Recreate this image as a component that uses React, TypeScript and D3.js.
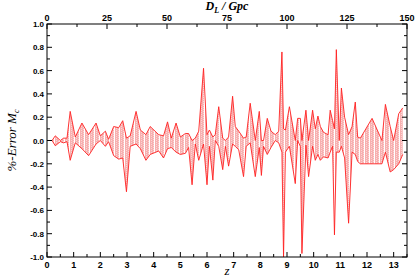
import React, { useEffect, useRef } from "react";
import * as d3 from "d3";

// redshift sample points
const zs = [
  0.19, 0.31, 0.5, 0.62, 0.75, 0.87, 1.06, 1.31, 1.56, 1.84, 2.0, 2.19, 2.31,
  2.5, 2.69, 2.84, 2.98, 3.12, 3.34, 3.5, 3.71, 3.87, 4.19, 4.37, 4.52, 4.66,
  4.84, 5.0, 5.19, 5.31, 5.44, 5.56, 5.69, 5.87, 6.0, 6.09, 6.22, 6.31, 6.44,
  6.59, 6.69, 6.81, 6.96, 7.06, 7.19, 7.37, 7.47, 7.62, 7.81, 7.96, 8.04, 8.12,
  8.26, 8.4, 8.56, 8.69, 8.81, 8.87, 8.94, 9.09, 9.31, 9.4, 9.5, 9.56, 9.71,
  9.81, 9.96, 10.06, 10.16, 10.25, 10.37, 10.54, 10.62, 10.71, 10.78, 10.85,
  10.96, 11.04, 11.16, 11.31, 11.44, 11.56, 11.65, 11.75, 12.19, 12.56, 12.69,
  12.87, 13.0, 13.19, 13.34,
];

const upper = [
  0, 0.04, 0.0, 0.02, 0.02, 0.25, 0.03, 0.15, 0.05, 0.15, 0.04, 0.08, 0.01,
  0.12, 0.11, 0.17, 0.02, 0.04, 0.25, 0.09, 0.05, 0.12, 0.05, 0.04, 0.16, 0.02,
  0.15, 0.03, 0.06, 0.06, 0.0, 0.02, 0.08, 0.62, 0.05, 0.09, 0.03, 0.05, 0.29,
  0.02, 0.0, 0.03, 0.38, 0.12, 0.08, 0.02, 0.03, 0.32, 0.0, 0.25, 0.0, 0.0,
  0.19, 0.08, 0.05, 0.08, 0.76, 0.1, 0.09, 0.29, 0.0, 0.19, 0.19, 0.0, 0.26,
  0.0, 0.26, 0.1, 0.21, 0.12, 0.07, 0.05, 0.26, 0.17, 0.1, 0.78, 0.0, 0.45,
  0.2, 0.05, 0.12, 0.33, 0.03, 0.02, 0.19, 0.0, 0.31, 0.12, 0.0, 0.23, 0.28,
];

const lower = [
  0, -0.045, -0.01, -0.02, -0.01, -0.17, -0.02, -0.07, -0.13, -0.03, 0.0,
  -0.05, -0.01, -0.13, -0.16, -0.15, -0.44, -0.05, -0.03, -0.07, -0.17, -0.12,
  -0.09, -0.15, -0.07, -0.06, -0.1, -0.12, -0.11, -0.06, -0.38, -0.03, -0.17,
  -0.03, -0.38, -0.05, -0.34, 0.0, -0.05, -0.25, -0.05, -0.22, -0.03, -0.05,
  -0.08, -0.31, -0.05, -0.02, -0.31, -0.06, -0.3, -0.05, -0.12, -0.06, 0.0,
  -0.02, -0.1, -1.0, -0.1, -0.05, -0.37, 0.0, -0.05, -0.97, -0.04, -0.31,
  -0.05, -0.17, -0.12, -0.17, -0.14, -0.15, -0.1, -0.05, -0.81, -0.1, -0.1,
  -0.05, -0.15, -0.71, -0.1, -0.12, -0.18, -0.2, -0.2, -0.2, -0.1, -0.27,
  -0.25, -0.2, -0.12,
];

const zTicks = d3.range(0, 14, 1);
const dlTicks = [0, 25, 50, 75, 100, 125, 150];
const yTicks = [1.0, 0.8, 0.6, 0.4, 0.2, 0.0, -0.2, -0.4, -0.6, -0.8, -1.0];

export default function App() {
  const svgRef = useRef<SVGSVGElement>(null);

  useEffect(() => {
    const width = 415;
    const height = 277;
    const m = { left: 47, right: 8, top: 24, bottom: 20 };
    const svg = d3.select(svgRef.current);
    svg.selectAll("*").remove();

    const x = d3.scaleLinear().domain([0, 13.5]).range([m.left, width - m.right]);
    const xTop = d3.scaleLinear().domain([0, 150]).range([m.left, width - m.right]);
    const y = d3.scaleLinear().domain([-1, 1]).range([height - m.bottom, m.top]);

    // pink dotted fill with thin white vertical stripes
    const defs = svg.append("defs");
    const pat = defs
      .append("pattern")
      .attr("id", "hatch")
      .attr("width", 5)
      .attr("height", 2)
      .attr("patternUnits", "userSpaceOnUse");
    pat.append("rect").attr("width", 5).attr("height", 2).attr("fill", "#f7b0b0");
    pat.append("rect").attr("x", 1).attr("width", 1).attr("height", 1).attr("fill", "#fbd6d6");
    pat.append("rect").attr("x", 3).attr("y", 1).attr("width", 1).attr("height", 1).attr("fill", "#fbd6d6");
    pat.append("rect").attr("x", 4).attr("width", 1).attr("height", 2).attr("fill", "#fff");

    const pts = zs.map((z, i) => ({ z, hi: upper[i], lo: lower[i] }));

    const area = d3
      .area<any>()
      .x((d) => x(d.z))
      .y0((d) => y(d.lo))
      .y1((d) => y(d.hi));
    svg.append("path").attr("d", area(pts)).attr("fill", "url(#hatch)");

    const lineHi = d3.line<any>().x((d) => x(d.z)).y((d) => y(d.hi));
    const lineLo = d3.line<any>().x((d) => x(d.z)).y((d) => y(d.lo));
    [lineHi, lineLo].forEach((ln) => {
      svg
        .append("path")
        .attr("d", ln(pts))
        .attr("fill", "none")
        .attr("stroke", "#ff2020")
        .attr("stroke-width", 0.9);
    });

    const font = "'Liberation Sans', Arial, sans-serif";

    // frame
    svg
      .append("rect")
      .attr("x", m.left)
      .attr("y", m.top)
      .attr("width", width - m.right - m.left)
      .attr("height", height - m.bottom - m.top)
      .attr("fill", "none")
      .attr("stroke", "#000")
      .attr("stroke-width", 1);

    const ticks = svg.append("g").attr("stroke", "#000").attr("stroke-width", 1);
    d3.range(0, 13.51, 0.5).forEach((v) => {
      const len = Number.isInteger(v) ? 5 : 3;
      ticks.append("line").attr("x1", x(v)).attr("x2", x(v)).attr("y1", y(-1)).attr("y2", y(-1) - len);
    });
    d3.range(0, 150.1, 12.5).forEach((v) => {
      const len = v % 25 === 0 ? 5 : 3;
      ticks.append("line").attr("x1", xTop(v)).attr("x2", xTop(v)).attr("y1", y(1)).attr("y2", y(1) + len);
    });
    d3.range(-1, 1.001, 0.1).forEach((v) => {
      const major = Math.abs(Math.round(v * 10)) % 2 === 0;
      const len = major ? 5 : 3;
      ticks.append("line").attr("x1", x(0)).attr("x2", x(0) + len).attr("y1", y(v)).attr("y2", y(v));
      ticks.append("line").attr("x1", x(13.5)).attr("x2", x(13.5) - len).attr("y1", y(v)).attr("y2", y(v));
    });

    svg
      .append("g")
      .selectAll("text")
      .data(zTicks)
      .join("text")
      .attr("x", (d) => x(d))
      .attr("y", height - m.bottom + 11)
      .attr("text-anchor", "middle")
      .attr("font-family", font)
      .attr("font-weight", "bold")
      .attr("font-size", 9)
      .text((d) => `${d}`);

    svg
      .append("g")
      .selectAll("text")
      .data(dlTicks)
      .join("text")
      .attr("x", (d) => xTop(d))
      .attr("y", m.top - 3)
      .attr("text-anchor", "middle")
      .attr("font-family", font)
      .attr("font-weight", "bold")
      .attr("font-size", 9)
      .text((d) => `${d}`);

    svg
      .append("g")
      .selectAll("text")
      .data(yTicks)
      .join("text")
      .attr("x", m.left - 3)
      .attr("y", (d) => y(d) + 3)
      .attr("text-anchor", "end")
      .attr("font-family", font)
      .attr("font-weight", "bold")
      .attr("font-size", 8)
      .text((d) => d.toFixed(1));

    const serif = "'Liberation Serif', 'Times New Roman', serif";
    svg
      .append("text")
      .attr("x", (m.left + width - m.right) / 2)
      .attr("y", 275)
      .attr("text-anchor", "middle")
      .attr("font-family", serif)
      .attr("font-style", "italic")
      .attr("font-size", 13)
      .text("z");

    const top = svg
      .append("text")
      .attr("x", (m.left + width - m.right) / 2)
      .attr("y", 10)
      .attr("text-anchor", "middle")
      .attr("font-family", serif)
      .attr("font-style", "italic")
      .attr("font-weight", "bold")
      .attr("font-size", 12);
    top.append("tspan").text("D");
    top.append("tspan").attr("font-size", 8).attr("dy", 3).text("L");
    top.append("tspan").attr("dy", -3).text(" / Gpc");

    const yl = svg
      .append("text")
      .attr("transform", `translate(16,${y(0)}) rotate(-90)`)
      .attr("text-anchor", "middle")
      .attr("font-family", serif)
      .attr("font-style", "italic")
      .attr("font-size", 13);
    yl.append("tspan").text("%-Error M");
    yl.append("tspan").attr("font-size", 8).attr("dy", 3).text("c");
  }, []);

  return (
    <div>
      <svg
        ref={svgRef}
        width={415}
        height={277}
        style={{ position: "absolute", left: 0, top: 0, background: "#fff" }}
      ></svg>
    </div>
  );
}
